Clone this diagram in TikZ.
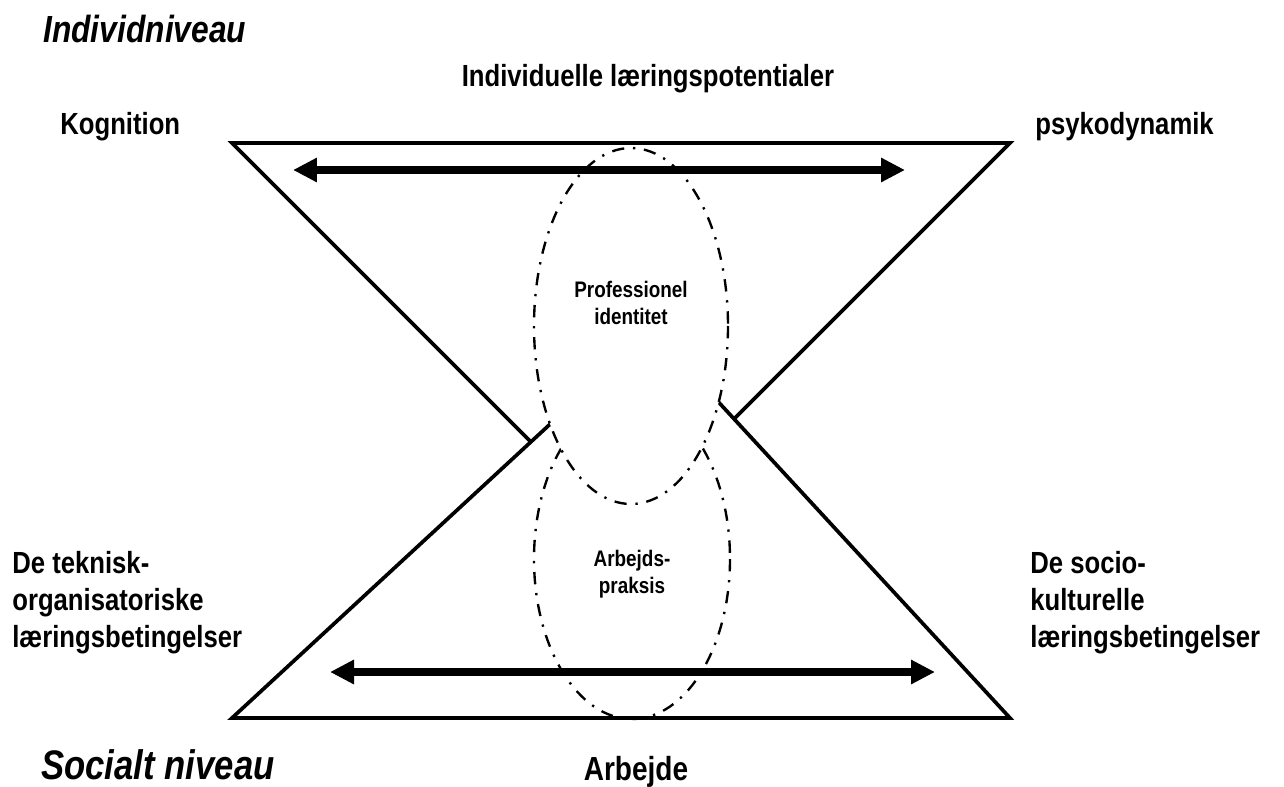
\documentclass[tikz,border=0pt]{standalone}
\usepackage{fontspec}
\setmainfont[FakeStretch=0.84]{Liberation Sans}
\usetikzlibrary{arrows.meta}

\begin{document}
\begin{tikzpicture}[
            x=0.02cm, y=-0.02cm,
            hourglassline/.style={line width=2.1pt, line join=miter},
            dashdotellipse/.style={line width=1.35pt, dash pattern=on 7pt off 5pt on 1.3pt off 5pt},
            bigarrow/.style={{Triangle[length=0.48cm,width=0.46cm]}-{Triangle[length=0.48cm,width=0.46cm]}, line width=4pt},
            levellabel/.style={font=\fontsize{21.5}{26}\selectfont\bfseries\itshape, inner sep=0pt},
            polelabel/.style={font=\fontsize{17.4}{21}\selectfont\bfseries, inner sep=0pt, align=left},
            innerlabel/.style={font=\fontsize{12.8}{15.5}\selectfont\bfseries, inner sep=0pt, align=center},
            ]

            \useasboundingbox (0,0) rectangle (1284,787);

            % corners of the two triangles
            \coordinate (topleft) at (232,143);
            \coordinate (topright) at (1010,143);
            \coordinate (topapex) at (621,532);
            \coordinate (botleft) at (232,718);
            \coordinate (botright) at (1010,718);
            \coordinate (botapex) at (652,330);

            \draw[hourglassline] (topleft) -- (topright) -- (topapex) -- cycle;
            \draw[hourglassline, fill=white] (botleft) -- (botright) -- (botapex) -- cycle;

            % the two overlapping fields
            \draw[dashdotellipse] (632,559) ellipse [x radius=98, y radius=160];
            \draw[dashdotellipse, fill=white] (631,326) ellipse [x radius=97, y radius=178];

            % double arrows
            \coordinate (upperL) at (293,170);
            \coordinate (upperR) at (905,170);
            \coordinate (lowerL) at (330,672);
            \coordinate (lowerR) at (935,672);
            \draw[bigarrow] (upperL) -- (upperR);
            \draw[bigarrow] (lowerL) -- (lowerR);

            \node[levellabel, anchor=base west] (individ) at (43,43) {Individniveau};
            \node[levellabel, anchor=base west, font=\fontsize{23.5}{28}\selectfont\bfseries\itshape] (social) at (41,779) {Socialt niveau};

            \node[polelabel, anchor=base] (potentials) at (648,87) {Individuelle læringspotentialer};
            \node[polelabel, anchor=base west] (cognition) at (60,135) {Kognition};
            \node[polelabel, anchor=base west] (psychodyn) at (1035,135) {psykodynamik};
            \node[polelabel, anchor=north west] (technical) at (12,551) {De teknisk-\\organisatoriske\\læringsbetingelser};
            \node[polelabel, anchor=north west] (sociocult) at (1030,551) {De socio-\\kulturelle\\læringsbetingelser};
            \node[polelabel, anchor=base, font=\fontsize{19}{23}\selectfont\bfseries] (work) at (636,780) {Arbejde};

            \node[innerlabel, anchor=north] (identity) at (631,281) {Professionel\\identitet};
            \node[innerlabel, anchor=north] (practice) at (632,550) {Arbejds-\\praksis};
        \end{tikzpicture}
\end{document}
